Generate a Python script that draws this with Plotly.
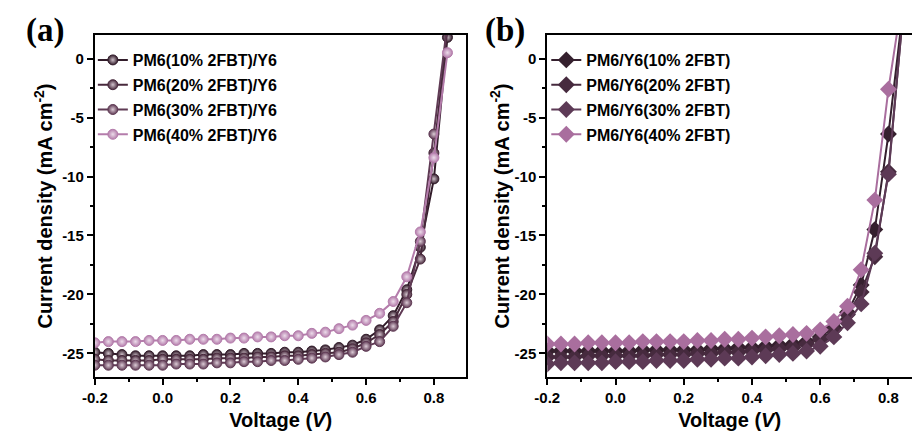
import plotly.graph_objects as go

voltage = [-0.2, -0.16, -0.12, -0.08, -0.04, 0.0, 0.04, 0.08, 0.12, 0.16, 0.2, 0.24, 0.28,
           0.32, 0.36, 0.4, 0.44, 0.48, 0.52, 0.56, 0.6, 0.64, 0.68, 0.72, 0.76, 0.8, 0.84]

labels_a = ["PM6(10% 2FBT)/Y6", "PM6(20% 2FBT)/Y6", "PM6(30% 2FBT)/Y6", "PM6(40% 2FBT)/Y6"]
labels_b = ["PM6/Y6(10% 2FBT)", "PM6/Y6(20% 2FBT)", "PM6/Y6(30% 2FBT)", "PM6/Y6(40% 2FBT)"]

a_10 = [-24.9, -25.0, -25.1, -25.2, -25.2, -25.2, -25.2, -25.2, -25.1, -25.1, -25.1, -25.0, -25.0,
        -25.0, -24.9, -24.9, -24.8, -24.7, -24.5, -24.3, -23.8, -23.0, -21.8, -19.6, -16.0, -10.2, 1.8]
a_20 = [-25.5, -25.6, -25.6, -25.6, -25.6, -25.5, -25.5, -25.5, -25.5, -25.4, -25.4, -25.4, -25.3,
        -25.3, -25.2, -25.2, -25.1, -25.0, -24.9, -24.6, -24.1, -23.4, -22.3, -20.0, -17.0, -8.0, 2.5]
a_30 = [-26.0, -26.0, -26.0, -26.0, -26.0, -26.0, -25.9, -25.9, -25.9, -25.8, -25.8, -25.7, -25.7,
        -25.6, -25.6, -25.5, -25.4, -25.3, -25.1, -24.9, -24.4, -24.0, -22.7, -20.7, -15.5, -6.4, 3.0]
a_40 = [-24.1, -24.0, -24.0, -24.0, -23.9, -23.9, -23.9, -23.8, -23.8, -23.8, -23.7, -23.7, -23.6,
        -23.6, -23.5, -23.5, -23.3, -23.2, -22.9, -22.6, -22.2, -21.6, -20.6, -18.5, -14.7, -8.4, 0.5]

b_10 = [-24.8, -24.8, -24.8, -24.8, -24.8, -24.8, -24.8, -24.7, -24.7, -24.7, -24.7, -24.7, -24.6,
        -24.6, -24.5, -24.5, -24.4, -24.3, -24.2, -24.0, -23.6, -22.8, -21.5, -19.2, -14.5, -6.4, 3.5]
b_20 = [-25.3, -25.3, -25.3, -25.2, -25.2, -25.2, -25.2, -25.2, -25.1, -25.1, -25.1, -25.0, -25.0,
        -24.9, -24.9, -24.8, -24.7, -24.6, -24.5, -24.2, -23.8, -23.0, -21.7, -19.8, -16.8, -9.6, 3.0]
b_30 = [-25.9, -25.8, -25.8, -25.8, -25.8, -25.7, -25.7, -25.7, -25.6, -25.6, -25.6, -25.5, -25.5,
        -25.4, -25.4, -25.3, -25.2, -25.1, -25.0, -24.8, -24.4, -23.6, -22.4, -20.8, -16.5, -9.8, 3.0]
b_40 = [-24.2, -24.2, -24.2, -24.1, -24.1, -24.1, -24.1, -24.0, -24.0, -24.0, -24.0, -23.9, -23.9,
        -23.8, -23.8, -23.7, -23.6, -23.5, -23.4, -23.3, -23.0, -22.3, -21.0, -17.9, -12.0, -2.6, 5.0]

colors_a = ["#321c2a", "#48293c", "#5f3a54", "#b47cab"]
highlights_a = ["#cdbfc8", "#d3c4ce", "#dccbd6", "#ecdcea"]
colors_b = ["#35202e", "#462a3e", "#5d3a56", "#a96e9e"]

fig = go.Figure()

for name, ys, col, hl in zip(labels_a, [a_10, a_20, a_30, a_40], colors_a, highlights_a):
    fig.add_trace(go.Scatter(
        x=voltage, y=ys, name=name, mode="lines+markers",
        line=dict(color=col, width=2),
        marker=dict(symbol="circle", size=10, color=col,
                    gradient=dict(type="radial", color=hl),
                    line=dict(color=col, width=1)),
        xaxis="x", yaxis="y", legend="legend", legendgroup=name,
    ))

for name, ys, col in zip(labels_b, [b_10, b_20, b_30, b_40], colors_b):
    fig.add_trace(go.Scatter(
        x=voltage, y=ys, name=name, mode="lines+markers",
        line=dict(color=col, width=2),
        marker=dict(symbol="diamond", size=13, color=col, line=dict(width=0)),
        xaxis="x2", yaxis="y2", legend="legend2", legendgroup=name,
    ))

tickfont = dict(family="Liberation Sans, Arial", size=15, color="#000", weight="bold")
titlefont = dict(family="Liberation Sans, Arial", size=20, color="#000", weight="bold")

xcommon = dict(range=[-0.2, 0.896], tickvals=[-0.2, 0.0, 0.2, 0.4, 0.6, 0.8],
               ticktext=["-0.2", "0.0", "0.2", "0.4", "0.6", "0.8"],
               showgrid=False, zeroline=False, showline=True, linecolor="#000", linewidth=2,
               ticks="outside", ticklen=6, tickwidth=2, tickcolor="#000",
               minor=dict(ticks="outside", ticklen=3, tickwidth=2, dtick=0.1, tick0=0, tickcolor="#000"),
               tickfont=tickfont,
               title=dict(text="Voltage (<i>V</i>)", font=titlefont, standoff=8))
ycommon = dict(range=[-27, 2], tickvals=[0, -5, -10, -15, -20, -25],
               ticktext=["0", "-5", "-10", "-15", "-20", "-25"],
               showgrid=False, zeroline=False, showline=True, linecolor="#000", linewidth=2,
               ticks="outside", ticklen=6, tickwidth=2, tickcolor="#000",
               minor=dict(ticks="outside", ticklen=3, tickwidth=2, dtick=2.5, tick0=0, tickcolor="#000"),
               tickfont=tickfont)

ydom = [57 / 434, (434 - 35) / 434]
legfont = dict(family="Liberation Sans, Arial", size=16, color="#000", weight="bold")

fig.update_layout(
    width=912, height=434,
    margin=dict(l=0, r=0, t=0, b=0),
    paper_bgcolor="white", plot_bgcolor="white",
    xaxis=dict(xcommon, domain=[83 / 912, 460 / 912], anchor="y", mirror=True),
    yaxis=dict(ycommon, domain=ydom, anchor="x", mirror=True,
               title=dict(text="Current density (mA cm<sup>-2</sup>)", font=titlefont, standoff=4)),
    xaxis2=dict(xcommon, range=[-0.2, 0.869], domain=[542 / 912, 1.0], anchor="y2", mirror=True),
    yaxis2=dict(ycommon, domain=ydom, anchor="x2", mirror=False,
                title=dict(text="Current density (mA cm<sup>-2</sup>)", font=titlefont, standoff=0)),
    legend=dict(x=81 / 912, y=(434 - 43) / 434, xanchor="left", yanchor="top",
                bgcolor="rgba(0,0,0,0)", tracegroupgap=1, font=legfont),
    legend2=dict(x=541 / 912, y=(434 - 43) / 434, xanchor="left", yanchor="top",
                 bgcolor="rgba(0,0,0,0)", tracegroupgap=1, font=legfont),
    annotations=[
        dict(text="<b>(a)</b>", x=32 / 912, y=(434 - 30) / 434, xref="paper", yref="paper",
             showarrow=False, xanchor="center", yanchor="middle",
             font=dict(family="Liberation Serif, Times New Roman", size=33, color="#000")),
        dict(text="<b>(b)</b>", x=499 / 912, y=(434 - 30) / 434, xref="paper", yref="paper",
             showarrow=False, xanchor="center", yanchor="middle",
             font=dict(family="Liberation Serif, Times New Roman", size=33, color="#000")),
    ],
)

fig.write_html("out.html", config={"displayModeBar": False},
               post_script="document.body.style.margin='0';document.body.style.overflow='hidden';")
